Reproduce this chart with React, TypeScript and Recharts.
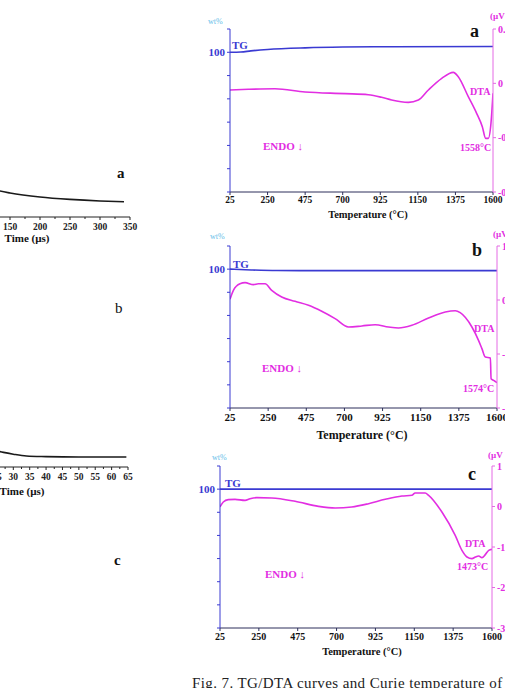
import { ComposedChart, LineChart, Line, XAxis, YAxis } from "recharts";

const SERIF = '"Liberation Serif", "DejaVu Serif", serif';
const BLUE = "#3a3ad2";
const PINK = "#e22ee2";
const AXIS_PINK = "#e46ae4";

// temperature axis of the TG/DTA panels
const TEMP_TICKS = [25, 250, 475, 700, 925, 1150, 1375, 1600];
const TG_TICKS = [88, 90, 92, 94, 96, 98, 100, 102];

// panel a
const tgA = [
  { t: 25, v: 100 }, { t: 90, v: 100.02 }, { t: 150, v: 100.12 }, { t: 250, v: 100.24 },
  { t: 475, v: 100.38 }, { t: 700, v: 100.45 }, { t: 1000, v: 100.48 }, { t: 1600, v: 100.5 },
];
const dtaA = [
  { t: 25, v: -0.049 }, { t: 135, v: -0.044 }, { t: 294, v: -0.04 }, { t: 474, v: -0.064 },
  { t: 714, v: -0.076 }, { t: 853, v: -0.084 }, { t: 933, v: -0.103 }, { t: 993, v: -0.123 },
  { t: 1093, v: -0.14 }, { t: 1153, v: -0.123 }, { t: 1213, v: -0.049 }, { t: 1293, v: 0.037 },
  { t: 1362, v: 0.081 }, { t: 1392, v: 0.049 }, { t: 1452, v: -0.098 }, { t: 1502, v: -0.221 },
  { t: 1536, v: -0.319 }, { t: 1556, v: -0.405 }, { t: 1572, v: -0.405 }, { t: 1588, v: -0.292 },
  { t: 1600, v: -0.073 },
];
const dtaTicksA = [-0.8, -0.4, 0, 0.4];

// panel b
const tgB = [
  { t: 25, v: 100 }, { t: 150, v: 99.93 }, { t: 300, v: 99.88 }, { t: 600, v: 99.87 }, { t: 1600, v: 99.87 },
];
const dtaB = [
  { t: 25, v: 0.012 }, { t: 45, v: 0.179 }, { t: 84, v: 0.302 }, { t: 114, v: 0.321 },
  { t: 163, v: 0.284 }, { t: 192, v: 0.302 }, { t: 232, v: 0.302 }, { t: 271, v: 0.179 },
  { t: 330, v: 0.056 }, { t: 409, v: -0.025 }, { t: 488, v: -0.099 }, { t: 566, v: -0.21 },
  { t: 645, v: -0.346 }, { t: 724, v: -0.5 }, { t: 803, v: -0.481 }, { t: 881, v: -0.457 },
  { t: 960, v: -0.5 }, { t: 1019, v: -0.519 }, { t: 1098, v: -0.469 }, { t: 1196, v: -0.333 },
  { t: 1295, v: -0.222 }, { t: 1354, v: -0.198 }, { t: 1383, v: -0.235 }, { t: 1452, v: -0.5 },
  { t: 1491, v: -0.747 }, { t: 1511, v: -0.901 }, { t: 1531, v: -1.056 }, { t: 1561, v: -1.074 },
  { t: 1565, v: -1.457 }, { t: 1580, v: -1.488 }, { t: 1600, v: -1.531 },
];
const dtaTicksB = [-2, -1, 0, 1];

// panel c
const tgC = [{ t: 25, v: 100 }, { t: 800, v: 100 }, { t: 1600, v: 100 }];
const dtaC = [
  { t: 25, v: -0.012 }, { t: 44, v: 0.111 }, { t: 73, v: 0.169 }, { t: 112, v: 0.177 },
  { t: 170, v: 0.152 }, { t: 199, v: 0.193 }, { t: 238, v: 0.218 }, { t: 325, v: 0.21 },
  { t: 460, v: 0.128 }, { t: 595, v: 0.004 }, { t: 692, v: -0.037 }, { t: 788, v: -0.012 },
  { t: 885, v: 0.07 }, { t: 982, v: 0.177 }, { t: 1078, v: 0.259 }, { t: 1136, v: 0.276 },
  { t: 1155, v: 0.333 }, { t: 1213, v: 0.333 }, { t: 1233, v: 0.276 }, { t: 1310, v: -0.136 },
  { t: 1387, v: -0.712 }, { t: 1426, v: -1.082 }, { t: 1455, v: -1.247 }, { t: 1484, v: -1.288 },
  { t: 1504, v: -1.247 }, { t: 1523, v: -1.222 }, { t: 1542, v: -1.263 }, { t: 1561, v: -1.189 },
  { t: 1581, v: -1.082 }, { t: 1600, v: -1.058 },
];
const dtaTicksC = [-3, -2, -1, 0, 1];

// partial decay curves on the left
const decayA = [
  { t: 50, v: 25 }, { t: 100, v: 16 }, { t: 133, v: 13 }, { t: 150, v: 12 }, { t: 200, v: 10 },
  { t: 250, v: 8.8 }, { t: 300, v: 8 }, { t: 340, v: 7.6 },
];
const decayTicksA = [0, 25, 50, 75, 100, 125, 150, 175, 200, 225, 250, 275, 300, 325, 350];
const decayC = [
  { t: 10, v: 20 }, { t: 18, v: 12 }, { t: 24, v: 8.5 }, { t: 27, v: 7.3 }, { t: 30, v: 6.4 },
  { t: 34, v: 5.5 }, { t: 40, v: 5.2 }, { t: 50, v: 5 }, { t: 64.5, v: 5 },
];
const decayTicksC = [0, 2.5, 5, 7.5, 10, 12.5, 15, 17.5, 20, 22.5, 25, 27.5, 30, 32.5, 35, 37.5, 40, 42.5, 45, 47.5, 50, 52.5, 55, 57.5, 60, 62.5, 65];

const Txt = ({ x, y, size, color = "#111", bold = true, center = false, children }: any) => (
  <div
    style={{
      position: "absolute",
      left: x,
      top: y,
      transform: center ? "translate(-50%, -50%)" : "translateY(-50%)",
      fontSize: size,
      lineHeight: 1,
      color,
      fontWeight: bold ? "bold" : "normal",
      fontFamily: SERIF,
      whiteSpace: "nowrap",
    }}
  >
    {children}
  </div>
);

interface PanelProps {
  left: number;
  right: number;
  top: number;
  bottom: number;
  tg: { t: number; v: number }[];
  dta: { t: number; v: number }[];
  dtaTicks: number[];
  fontSize: number;
  tickGap: number;
}

const TgDtaPanel = ({ left, right, top, bottom, tg, dta, dtaTicks, fontSize, tickGap }: PanelProps) => {
  const padL = 40;
  const padR = 40;
  const padT = 10;
  const axH = 30;
  const w = right - left + padL + padR;
  const h = bottom - top + padT + axH;
  return (
    <div style={{ position: "absolute", left: left - padL, top: top - padT, width: w, height: h }}>
      <ComposedChart width={w} height={h} margin={{ top: padT, right: 0, bottom: 0, left: 0 }}>
        <XAxis
          type="number"
          dataKey="t"
          domain={[25, 1600]}
          ticks={TEMP_TICKS}
          interval={0}
          allowDataOverflow
          height={axH}
          stroke="#2c2f5a"
          tickSize={3}
          tickMargin={tickGap}
          tick={{ fill: "#111", fontSize, fontWeight: "bold", fontFamily: SERIF }}
        />
        <YAxis
          yAxisId="tg"
          orientation="left"
          width={padL}
          domain={[88, 102]}
          ticks={TG_TICKS}
          interval={0}
          allowDataOverflow
          stroke={BLUE}
          tickSize={3}
          tickMargin={2}
          tickFormatter={(v: number) => (v === 100 ? "100" : "")}
          tick={{ fill: BLUE, fontSize: 11, fontWeight: "bold", fontFamily: SERIF }}
        />
        <YAxis
          yAxisId="dta"
          orientation="right"
          width={padR}
          domain={[dtaTicks[0], dtaTicks[dtaTicks.length - 1]]}
          ticks={dtaTicks}
          interval={0}
          allowDataOverflow
          stroke={AXIS_PINK}
          tickSize={3}
          tickMargin={2}
          tick={{ fill: PINK, fontSize: 10, fontWeight: "bold", fontFamily: SERIF }}
        />
        <Line
          yAxisId="tg"
          data={tg}
          dataKey="v"
          type="monotone"
          stroke={BLUE}
          strokeWidth={1.6}
          dot={false}
          isAnimationActive={false}
        />
        <Line
          yAxisId="dta"
          data={dta}
          dataKey="v"
          type="monotone"
          stroke={PINK}
          strokeWidth={1.6}
          dot={false}
          isAnimationActive={false}
        />
      </ComposedChart>
    </div>
  );
};

interface DecayProps {
  x0: number;
  x1: number;
  axisY: number;
  domain: [number, number];
  ticks: number[];
  major: number;
  data: { t: number; v: number }[];
}

const DecayPanel = ({ x0, x1, axisY, domain, ticks, major, data }: DecayProps) => {
  const padR = 20;
  const w = x1 - x0 + padR;
  const plotH = 200;
  const axH = 30;
  const renderTick = ({ x, y, payload }: any) => {
    const isMajor = Math.abs(payload.value % major) < 1e-6;
    return (
      <g>
        <line x1={x} x2={x} y1={y} y2={y + (isMajor ? 3 : 2)} stroke="#222" strokeWidth={1} />
        {isMajor && (
          <text
            x={x}
            y={y + 13}
            textAnchor="middle"
            fontSize={9.5}
            fontWeight="bold"
            fontFamily={SERIF}
            fill="#222"
          >
            {payload.value}
          </text>
        )}
      </g>
    );
  };
  return (
    <div style={{ position: "absolute", left: x0, top: axisY - plotH, width: w, height: plotH + axH }}>
      <LineChart width={w} height={plotH + axH} margin={{ top: 0, right: padR, bottom: 0, left: 0 }}>
        <XAxis
          type="number"
          dataKey="t"
          domain={domain}
          ticks={ticks}
          interval={0}
          allowDataOverflow
          height={axH}
          stroke="#222"
          tickLine={false}
          tickSize={0}
          tickMargin={0}
          tick={renderTick}
        />
        <YAxis hide domain={[0, 100]} allowDataOverflow />
        <Line
          data={data}
          dataKey="v"
          type="monotone"
          stroke="#1a1a1a"
          strokeWidth={1.6}
          dot={false}
          isAnimationActive={false}
        />
      </LineChart>
    </div>
  );
};

export default function App() {
  return (
    <div
      style={{
        position: "absolute",
        left: 0,
        top: 0,
        width: 505,
        height: 688,
        overflow: "hidden",
        background: "#fff",
        fontFamily: SERIF,
      }}
    >
      {/* left column: cut-off decay curves */}
      <DecayPanel x0={-80} x1={130} axisY={217} domain={[0, 350]} ticks={decayTicksA} major={50} data={decayA} />
      <Txt x={27} y={238} size={11} center>Time (µs)</Txt>
      <Txt x={117} y={173} size={15}>a</Txt>
      <Txt x={115} y={308} size={15} bold={false}>b</Txt>
      <DecayPanel x0={-85} x1={128} axisY={467} domain={[0, 65]} ticks={decayTicksC} major={5} data={decayC} />
      <Txt x={22} y={491} size={11} center>Time (µs)</Txt>
      <Txt x={114} y={560} size={15}>c</Txt>

      {/* panel a */}
      <TgDtaPanel left={230} right={493} top={29} bottom={192} tg={tgA} dta={dtaA} dtaTicks={dtaTicksA} fontSize={9.5} tickGap={1} />
      <Txt x={208} y={22} size={8} color="#62bde8" bold={false}>wt%</Txt>
      <Txt x={490} y={16} size={9} color={PINK}>(µV</Txt>
      <Txt x={232} y={45} size={11} color={BLUE}>TG</Txt>
      <Txt x={470} y={31} size={18}>a</Txt>
      <Txt x={470} y={92} size={10} color={PINK}>DTA</Txt>
      <Txt x={460} y={148} size={10} color={PINK}>1558°C</Txt>
      <Txt x={263} y={146} size={11} color={PINK}>ENDO ↓</Txt>
      <Txt x={368} y={215} size={10.5} center>Temperature (°C)</Txt>

      {/* panel b */}
      <TgDtaPanel left={230} right={497} top={246} bottom={408} tg={tgB} dta={dtaB} dtaTicks={dtaTicksB} fontSize={11} tickGap={2} />
      <Txt x={210} y={237} size={8} color="#62bde8" bold={false}>wt%</Txt>
      <Txt x={493} y={234} size={9} color={PINK}>(µV</Txt>
      <Txt x={233} y={264} size={11} color={BLUE}>TG</Txt>
      <Txt x={472} y={250} size={18}>b</Txt>
      <Txt x={474} y={329} size={10} color={PINK}>DTA</Txt>
      <Txt x={463} y={389} size={10} color={PINK}>1574°C</Txt>
      <Txt x={262} y={368} size={11} color={PINK}>ENDO ↓</Txt>
      <Txt x={362} y={435} size={12} center>Temperature (°C)</Txt>

      {/* panel c */}
      <TgDtaPanel left={220} right={492} top={466} bottom={628} tg={tgC} dta={dtaC} dtaTicks={dtaTicksC} fontSize={10} tickGap={2} />
      <Txt x={212} y={458} size={8} color="#62bde8" bold={false}>wt%</Txt>
      <Txt x={488} y={455} size={9} color={PINK}>(µV</Txt>
      <Txt x={225} y={483} size={11} color={BLUE}>TG</Txt>
      <Txt x={468} y={474} size={18}>c</Txt>
      <Txt x={465} y={544} size={10} color={PINK}>DTA</Txt>
      <Txt x={457} y={567} size={10} color={PINK}>1473°C</Txt>
      <Txt x={265} y={574} size={11} color={PINK}>ENDO ↓</Txt>
      <Txt x={362} y={652} size={10.5} center>Temperature (°C)</Txt>

      <div
        style={{
          position: "absolute",
          left: 192,
          top: 676,
          fontSize: 15,
          lineHeight: 1,
          fontFamily: SERIF,
          color: "#222",
          whiteSpace: "nowrap",
          letterSpacing: 0.4,
        }}
      >
        Fig. 7. TG/DTA curves and Curie temperature of
      </div>
    </div>
  );
}
